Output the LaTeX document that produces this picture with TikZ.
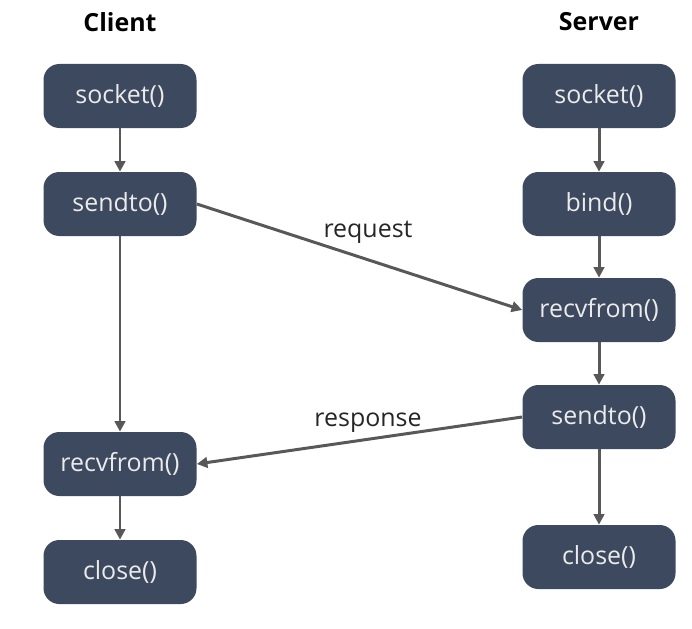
\documentclass[tikz,border=0pt]{standalone}
\usepackage{fontspec}
\setmainfont{Open Sans}
\usepackage{tikz}
\usetikzlibrary{positioning, arrows.meta}

\definecolor{boxnavy}{RGB}{61,73,94}
\definecolor{linegray}{RGB}{88,88,88}

\begin{document}
\begin{tikzpicture}[
  >={Triangle[length=6pt, width=6pt]},
  block/.style={fill=boxnavy, rounded corners=9pt, minimum width=3.06cm,
    minimum height=1.28cm, align=center, text=white!92!black,
    font=\fontsize{14.2}{16}\selectfont},
  heading/.style={font=\fontsize{14.2}{17}\selectfont\bfseries},
  arr/.style={->, line width=1.7pt, linegray},
  lbl/.style={font=\fontsize{14.2}{16}\selectfont, text=black!85},
]
\useasboundingbox (0,0) rectangle (13.84,-12.56);

% === Client side (left) ===
\node[heading] (client) at (2.40, -0.44) {Client};

\node[block] (csock) at (2.40, -1.92) {socket()};
\node[block] (csend) at (2.40, -4.08) {sendto()};
\node[block] (crecv) at (2.40, -9.28) {recvfrom()};
\node[block] (cclose) at (2.40, -11.44) {close()};

\draw[arr] (csock) -- (csend);
\draw[arr] (csend) -- (crecv);
\draw[arr] (crecv) -- (cclose);

% === Server side (right) ===
\node[heading] (server) at (11.98, -0.44) {Server};

\node[block] (ssock) at (11.98, -1.92) {socket()};
\node[block] (sbind) at (11.98, -4.08) {bind()};
\node[block] (srecv) at (11.98, -6.20) {recvfrom()};
\node[block] (ssend) at (11.98, -8.34) {sendto()};
\node[block] (sclose) at (11.98, -11.14) {close()};

\draw[arr] (ssock) -- (sbind);
\draw[arr] (sbind) -- (srecv);
\draw[arr] (srecv) -- (ssend);
\draw[arr] (ssend) -- (sclose);

% === Messages between the two ===
\draw[arr] (csend.east) -- (srecv.west);
\node[lbl] (req) at (7.36, -4.64) {request};

\draw[arr] (ssend.west) -- (crecv.east);
\node[lbl] (resp) at (7.36, -8.46) {response};

\end{tikzpicture}
\end{document}
